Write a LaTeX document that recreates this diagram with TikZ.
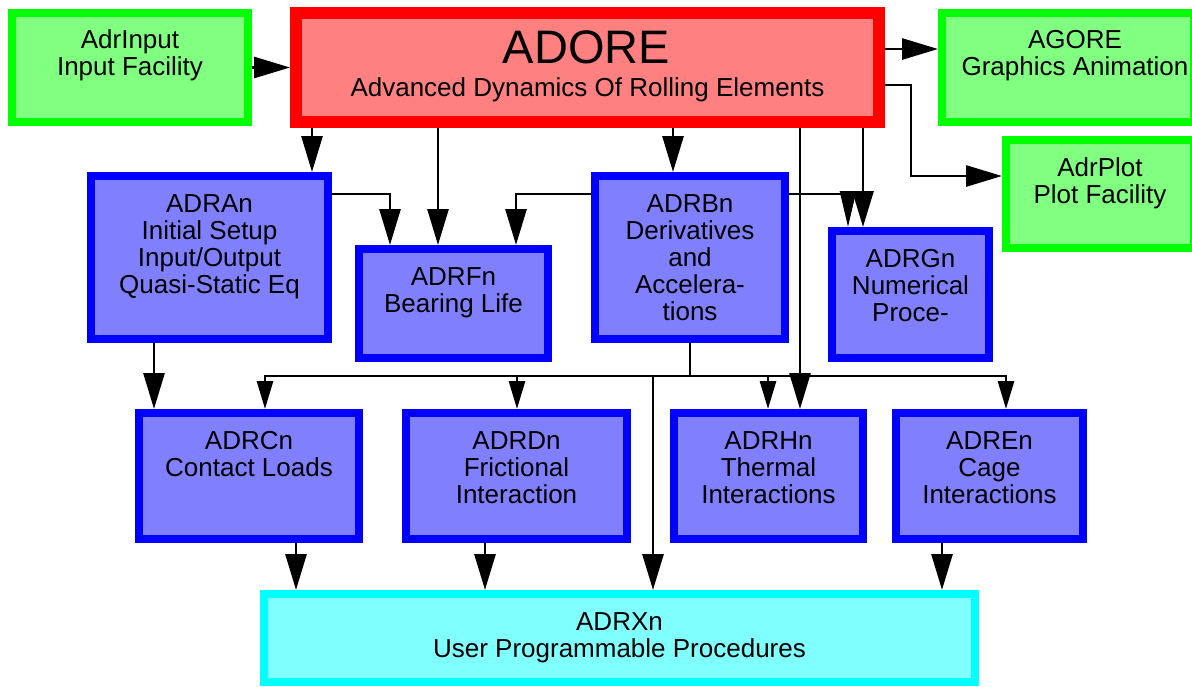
\documentclass[tikz,border=0pt]{standalone}
\usepackage{fontspec}
\setmainfont{Liberation Sans}
\usetikzlibrary{arrows.meta,calc}
\definecolor{gline}{HTML}{00FF00}
\definecolor{gfill}{HTML}{80FF80}
\definecolor{rline}{HTML}{FF0000}
\definecolor{rfill}{HTML}{FF8080}
\definecolor{bline}{HTML}{0000FF}
\definecolor{bfill}{HTML}{8080FF}
\definecolor{cline}{HTML}{00FFFF}
\definecolor{cfill}{HTML}{80FFFF}
\newcommand{\ml}[1]{\begin{tabular}[t]{@{}c@{}}#1\end{tabular}}
\begin{document}
\begin{tikzpicture}[x=1pt,y=-1pt,
  gbox/.style={draw=gline,fill=gfill,line width=8pt,inner sep=0pt},
  rbox/.style={draw=rline,fill=rfill,line width=12pt,inner sep=0pt},
  bbox/.style={draw=bline,fill=bfill,line width=8pt,inner sep=0pt},
  cbox/.style={draw=cline,fill=cfill,line width=8pt,inner sep=0pt},
  lbl/.style={anchor=base,inner sep=0pt,font=\fontsize{26}{27}\selectfont},
  conn/.style={line width=2.8pt,black},
  arrB/.style={conn,-{Triangle[length=36pt,width=21pt]}},
  arrS/.style={conn,-{Triangle[length=28pt,width=16pt]}},
  arrN/.style={conn,-{Triangle[length=36pt,width=16pt]}}]
\useasboundingbox (0,0) rectangle (1192,686);

% boxes
\node[gbox,minimum width=236pt,minimum height=109pt] (inp) at (130,67.5) {};
\node[rbox,minimum width=583pt,minimum height=109pt] (adore) at (587.5,67.5) {};
\node[gbox,minimum width=252pt,minimum height=109pt] (agore) at (1068,67.5) {};
\node[gbox,minimum width=188pt,minimum height=108pt] (plot) at (1100,194) {};
\node[bbox,minimum width=237pt,minimum height=163pt] (adran) at (209.5,257.5) {};
\node[bbox,minimum width=189pt,minimum height=109pt] (adrfn) at (453.5,303.5) {};
\node[bbox,minimum width=190pt,minimum height=163pt] (adrbn) at (690,257.5) {};
\node[bbox,minimum width=157pt,minimum height=127pt] (adrgn) at (910.5,294.5) {};
\node[bbox,minimum width=220pt,minimum height=126pt] (adrcn) at (249,476) {};
\node[bbox,minimum width=221pt,minimum height=126pt] (adrdn) at (516.5,476) {};
\node[bbox,minimum width=189pt,minimum height=126pt] (adrhn) at (768.5,476) {};
\node[bbox,minimum width=187pt,minimum height=126pt] (adren) at (989.5,476) {};
\node[cbox,minimum width=711pt,minimum height=88pt] (adrxn) at (619.5,638) {};

% labels
\node[lbl] (tinp) at ($(inp.north)+(0,39)$) {\ml{AdrInput\\Input Facility}};
\node[anchor=base,inner sep=0pt,font=\fontsize{47}{50}\selectfont] (tadore) at ($(adore.north)+(-1,56)$) {ADORE};
\node[lbl] (tadore2) at ($(adore.north)+(0,89)$) {Advanced Dynamics Of Rolling Elements};
\node[lbl] (tagore) at ($(agore.north)+(7,39)$) {\ml{AGORE\\Graphics Animation}};
\node[lbl] (tplot) at ($(plot.north)+(0,40)$) {\ml{AdrPlot\\Plot Facility}};
\node[lbl] (tadran) at ($(adran.north)+(0,40)$) {\ml{ADRAn\\Initial Setup\\Input/Output\\Quasi-Static Eq}};
\node[lbl] (tadrfn) at ($(adrfn.north)+(0,40)$) {\ml{ADRFn\\Bearing Life}};
\node[lbl] (tadrbn) at ($(adrbn.north)+(0,40)$) {\ml{ADRBn\\Derivatives\\and\\Accelera-\\tions}};
\node[lbl] (tadrgn) at ($(adrgn.north)+(0,40)$) {\ml{ADRGn\\Numerical\\Proce-}};
\node[lbl] (tadrcn) at ($(adrcn.north)+(0,40)$) {\ml{ADRCn\\Contact Loads}};
\node[lbl] (tadrdn) at ($(adrdn.north)+(0,40)$) {\ml{ADRDn\\Frictional\\Interaction}};
\node[lbl] (tadrhn) at ($(adrhn.north)+(0,40)$) {\ml{ADRHn\\Thermal\\Interactions}};
\node[lbl] (tadren) at ($(adren.north)+(0,40)$) {\ml{ADREn\\Cage\\Interactions}};
\node[lbl] (tadrxn) at ($(adrxn.north)+(0,40)$) {\ml{ADRXn\\User Programmable Procedures}};

% connectors from the top row
\draw[arrB] (inp.east) -- (adore.west);
\draw[arrB] (adore.east |- 0,49) -- (agore.west |- 0,49);
\draw[arrB] (adore.east |- 0,85) -| (911,176) -- (plot.west |- 0,176);
\draw[arrB] (312,0 |- adore.south) -- (312,0 |- adran.north);
\draw[arrB] (438,0 |- adore.south) -- (438,0 |- adrfn.north);
\draw[arrB] (673,0 |- adore.south) -- (673,0 |- adrbn.north);
\draw[arrB] (800,0 |- adore.south) -- (800,0 |- adrhn.north);
\draw[arrB] (863,0 |- adore.south) -- (863,0 |- adrgn.north);

% middle row
\draw[arrB] (adran.east |- 0,194) -| (390,0 |- adrfn.north);
\draw[arrB] (adrbn.west |- 0,194) -| (516,0 |- adrfn.north);
\draw[arrN] (adrbn.east |- 0,194) -| (848,0 |- adrgn.north);
\draw[arrB] (154,0 |- adran.south) -- (154,0 |- adrcn.north);

% bus
\coordinate (busB) at (690,376);
\coordinate (busL) at (265,376);
\coordinate (busR) at (1006,376);
\coordinate (bD) at (517,376);
\coordinate (bH) at (768,376);
\coordinate (bX) at (653,376);
\draw[conn] (adrbn.south) -- (busB);
\draw[arrS] (busB) -- (busL) -- (busL |- adrcn.north);
\draw[arrS] (busB) -- (busR) -- (busR |- adren.north);
\draw[arrS] (bD) -- (bD |- adrdn.north);
\draw[arrS] (bH) -- (bH |- adrhn.north);
\draw[arrB] (bX) -- (bX |- adrxn.north);

% bottom row to ADRXn
\draw[arrB] (296,0 |- adrcn.south) -- (296,0 |- adrxn.north);
\draw[arrB] (485,0 |- adrdn.south) -- (485,0 |- adrxn.north);
\draw[arrB] (942,0 |- adren.south) -- (942,0 |- adrxn.north);
\end{tikzpicture}
\end{document}
